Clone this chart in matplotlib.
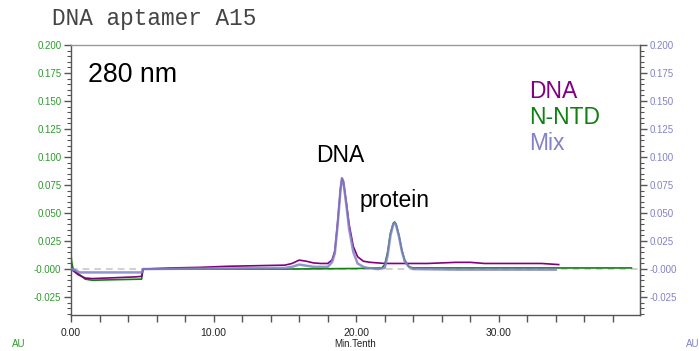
import matplotlib
matplotlib.use("Agg")
import matplotlib.pyplot as plt
from matplotlib.ticker import MultipleLocator, FuncFormatter

# ---- data (time in Min.Tenth, absorbance in AU) ----
dna_t = [0, 0.1, 0.5, 1.0, 1.5, 2.5, 3.5, 4.5, 4.95, 5.05, 7, 9, 11, 13, 15, 15.5,
         16.0, 16.5, 17.0, 17.5, 18.0, 18.3, 18.5, 18.7, 18.9, 19.0, 19.1, 19.3,
         19.5, 19.8, 20.1, 20.5, 21, 22, 23, 25, 27, 28, 29, 31, 33, 34.2]
dna_au = [0, -0.001, -0.005, -0.008, -0.0085, -0.008, -0.0075, -0.007, -0.0065,
          0.0, 0.001, 0.0015, 0.0025, 0.003, 0.0035, 0.005, 0.008, 0.007, 0.0055,
          0.005, 0.005, 0.008, 0.016, 0.042, 0.072, 0.081, 0.078, 0.060, 0.040,
          0.020, 0.011, 0.007, 0.006, 0.005, 0.005, 0.005, 0.006, 0.006, 0.005,
          0.005, 0.005, 0.004]

ntd_t = [0, 0.05, 0.15, 0.5, 1.0, 1.5, 3.0, 4.95, 5.05, 10, 15, 20, 21.8, 22.0,
         22.2, 22.4, 22.6, 22.7, 22.8, 23.0, 23.2, 23.4, 23.7, 24.0, 26, 30, 35, 39.3]
ntd_au = [0.013, 0.006, 0.0, -0.004, -0.009, -0.010, -0.0095, -0.009, 0.0, 0.0,
          0.0, 0.0005, 0.001, 0.004, 0.015, 0.032, 0.041, 0.042, 0.040, 0.030,
          0.017, 0.008, 0.002, 0.001, 0.001, 0.001, 0.001, 0.001]

mix_t = [0, 0.3, 0.6, 2.5, 4.95, 5.05, 10, 15, 15.5, 16.0, 16.5, 17.0, 18.0,
         18.3, 18.5, 18.7, 18.9, 19.0, 19.1, 19.3, 19.5, 19.8, 20.1, 20.5, 20.8,
         21.5, 22.0, 22.2, 22.4, 22.6, 22.7, 22.8, 23.0, 23.2, 23.4, 23.7, 24.0,
         27, 30, 34]
mix_au = [0, -0.001, -0.003, -0.003, -0.003, 0.0, 0.0005, 0.001, 0.002, 0.004,
          0.003, 0.002, 0.002, 0.006, 0.014, 0.040, 0.071, 0.081, 0.078, 0.058,
          0.036, 0.015, 0.005, 0.002, 0.001, 0.0, 0.001, 0.012, 0.030, 0.040,
          0.041, 0.039, 0.029, 0.016, 0.007, 0.002, 0.0, -0.0005, -0.0005, -0.0005]

series_names = ["DNA", "N-NTD", "Mix"]
series_colors = ["#800080", "#118011", "#8282c8"]

plt.rcParams['font.family'] = ['Liberation Sans', 'DejaVu Sans']

fig = plt.figure(figsize=(6.99, 3.51), dpi=100)
ax = fig.add_axes([71 / 699, 1 - 315 / 351, (640 - 71) / 699, (315 - 45) / 351])

ax.axhline(0, color="#c8c8c8", lw=1.2, ls=(0, (4, 3)), zorder=1)
ax.plot(dna_t, dna_au, color=series_colors[0], lw=1.2, zorder=3)
ax.plot(ntd_t, ntd_au, color=series_colors[1], lw=1.2, zorder=2)
ax.plot(mix_t, mix_au, color=series_colors[2], lw=1.8, alpha=0.85, zorder=4)

ax.set_xlim(0, 39.9)
ax.set_ylim(-0.041, 0.200)

fmt_y = FuncFormatter(lambda v, p: "-0.000" if abs(v) < 1e-9 else f"{v:.3f}")
ax.yaxis.set_major_locator(MultipleLocator(0.025))
ax.yaxis.set_minor_locator(MultipleLocator(0.005))
ax.yaxis.set_major_formatter(fmt_y)
ax.xaxis.set_major_locator(MultipleLocator(10))
ax.xaxis.set_minor_locator(MultipleLocator(2))
ax.xaxis.set_major_formatter(FuncFormatter(lambda v, p: f"{v:.2f}"))

for s in ax.spines.values():
    s.set_color("#555555")
    s.set_linewidth(1.0)
ax.spines["top"].set_color("#999999")

ax.tick_params(axis="x", which="both", direction="out", length=5, width=1,
               color="#555555", labelsize=7.5, labelcolor="#222222", pad=4)
ax.tick_params(axis="y", which="major", direction="out", length=5, width=1,
               color="#555555", labelsize=7, labelcolor="#2e9a2e", pad=2)
ax.tick_params(axis="y", which="minor", direction="out", length=3, width=0.8,
               color="#555555")

ax2 = ax.twinx()
ax2.set_ylim(ax.get_ylim())
ax2.yaxis.set_major_locator(MultipleLocator(0.025))
ax2.yaxis.set_minor_locator(MultipleLocator(0.005))
ax2.yaxis.set_major_formatter(fmt_y)
ax2.tick_params(axis="y", which="major", direction="out", length=5, width=1,
                color="#555555", labelsize=7, labelcolor="#8282c8", pad=2)
ax2.tick_params(axis="y", which="minor", direction="out", length=3, width=0.8,
                color="#555555")
for s in ax2.spines.values():
    s.set_visible(False)
ax2.spines["right"].set_visible(True)
ax2.spines["right"].set_color("#555555")

# texts
fig.text(52 / 699, 1 - 18 / 351, "DNA aptamer A15", family="Liberation Mono",
         fontsize=16.4, color="#444444", va="center")
fig.text(88 / 699, 1 - 75 / 351, "280 nm", fontsize=19.3, color="black",
         va="center")
fig.text(340 / 699, 1 - 156 / 351, "DNA", fontsize=16.5, ha="center",
         va="center")
fig.text(395 / 699, 1 - 200 / 351, "protein", fontsize=16.5, ha="center",
         va="center")
for i, (name, c) in enumerate(zip(series_names, series_colors)):
    fig.text(529 / 699, 1 - (91 + 26.5 * i) / 351, name, fontsize=16.5,
             color=c, va="center")

fig.text(12 / 699, 1 - 344 / 351, "AU", fontsize=7, color="#2e9a2e", va="center")
fig.text(686 / 699, 1 - 344 / 351, "AU", fontsize=7, color="#8282c8", va="center")
fig.text(355 / 699, 1 - 344 / 351, "Min.Tenth", fontsize=7, color="#222222",
         ha="center", va="center")

fig.savefig("out.png", dpi=100)
